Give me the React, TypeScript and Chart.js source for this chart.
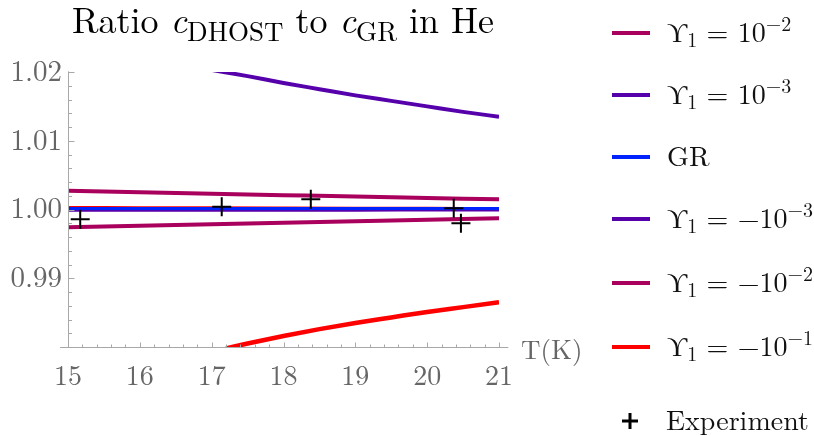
import React, { useEffect, useRef } from "react";
import { Chart, registerables } from "chart.js";

Chart.register(...registerables);

// ---------- data ----------
const T_GRID = [15, 16, 17, 18, 19, 20, 21];
const UPS_POS_2 = [1.00273, 1.00251, 1.0023, 1.00209, 1.00188, 1.00168, 1.00148];
const UPS_NEG_2 = [0.99741, 0.99763, 0.99785, 0.99807, 0.99829, 0.99851, 0.99872];
const GR_VALS = [1.00015, 1.00015, 1.00015, 1.00015, 1.00015, 1.00015, 1.00015];
const UPS_NEG_3 = [0.99995, 0.99996, 0.99997, 0.99998, 0.99998, 0.99999, 1.0];
const RED_NEAR = [1.0004, 1.00038, 1.00036, 1.00033, 1.0003, 1.00028, 1.00026];

const T_POS_3 = [17.0, 17.5, 18, 18.5, 19, 19.5, 20, 20.5, 21];
const UPS_POS_3 = [1.0203, 1.0194, 1.0184, 1.0175, 1.0166, 1.0158, 1.015, 1.0142, 1.0135];

const T_NEG_1 = [17.2, 17.5, 18, 18.5, 19, 19.5, 20, 20.5, 21];
const UPS_NEG_1 = [0.9798, 0.9805, 0.9816, 0.9826, 0.9835, 0.9843, 0.9851, 0.9858, 0.9865];

const EXP_T = [15.17, 17.14, 18.38, 20.37, 20.47];
const EXP_RATIO = [0.99857, 1.0004, 1.00148, 1.00017, 0.998];

const X_MIN = 15;
const X_MAX = 21;
const Y_MIN = 0.98;
const Y_MAX = 1.02;

// legend: sign + exponent ; null = GR
const LEGEND_ITEMS: ({ neg: boolean; exp: string } | null)[] = [
  { neg: false, exp: "2" },
  { neg: false, exp: "3" },
  null,
  { neg: true, exp: "3" },
  { neg: true, exp: "2" },
  { neg: true, exp: "1" },
];

const MAGENTA = "#A8005C";
const PURPLE = "#5600AC";
const BLUE = "#0022FF";
const RED = "#FF0000";
const LEGEND_COLORS = [MAGENTA, PURPLE, BLUE, PURPLE, MAGENTA, RED];

const SERIF = '"Latin Modern Roman", "Liberation Serif", serif';
const GRAY = "#666666";
const AXIS_GRAY = "#a8a8a8";

const pts = (xs: number[], ys: number[]) => xs.map((x, i) => ({ x, y: ys[i] }));

const decorPlugin = {
  id: "decor",
  afterDraw(chart: any) {
    const ctx: CanvasRenderingContext2D = chart.ctx;
    const xs = chart.scales.x;
    const ys = chart.scales.y;
    ctx.save();

    // axes
    ctx.strokeStyle = AXIS_GRAY;
    ctx.lineWidth = 1;
    const yAxisX = Math.round(xs.getPixelForValue(X_MIN)) + 0.5;
    const xAxisY = Math.round(ys.getPixelForValue(Y_MIN)) + 0.5;
    ctx.beginPath();
    ctx.moveTo(xs.getPixelForValue(X_MIN - 0.11), xAxisY);
    ctx.lineTo(xs.getPixelForValue(X_MAX + 0.13), xAxisY);
    ctx.moveTo(yAxisX, ys.getPixelForValue(Y_MAX + 0.0001));
    ctx.lineTo(yAxisX, xAxisY);
    ctx.stroke();

    // x ticks (inward)
    ctx.beginPath();
    for (let k = 0; k <= (X_MAX - X_MIN) * 5; k++) {
      const v = X_MIN + k * 0.2;
      const px = Math.round(xs.getPixelForValue(v)) + 0.5;
      const len = k % 5 === 0 ? 5 : 3;
      ctx.moveTo(px, xAxisY);
      ctx.lineTo(px, xAxisY - len);
    }
    // y ticks (inward)
    for (let k = 0; k <= 20; k++) {
      const v = Y_MIN + k * 0.002;
      const py = Math.round(ys.getPixelForValue(v)) + 0.5;
      const len = k % 5 === 0 ? 6 : 3.5;
      ctx.moveTo(yAxisX, py);
      ctx.lineTo(yAxisX + len, py);
    }
    ctx.stroke();

    // axis label T(K)
    ctx.fillStyle = GRAY;
    ctx.font = `27px ${SERIF}`;
    ctx.textBaseline = "alphabetic";
    ctx.textAlign = "left";
    ctx.fillText("T(K)", 521, 359);

    // title
    ctx.fillStyle = "#000";
    const segs: { t: string; f: string; dy: number }[] = [
      { t: "Ratio ", f: `36px ${SERIF}`, dy: 0 },
      { t: "c", f: `italic 36px ${SERIF}`, dy: 0 },
      { t: "DHOST", f: `27px ${SERIF}`, dy: 8 },
      { t: " to ", f: `36px ${SERIF}`, dy: 0 },
      { t: "c", f: `italic 36px ${SERIF}`, dy: 0 },
      { t: "GR", f: `27px ${SERIF}`, dy: 8 },
      { t: " in He", f: `36px ${SERIF}`, dy: 0 },
    ];
    let total = 0;
    for (const s of segs) {
      ctx.font = s.f;
      total += ctx.measureText(s.t).width;
    }
    let tx = 283 - total / 2;
    for (const s of segs) {
      ctx.font = s.f;
      ctx.fillText(s.t, tx, 33 + s.dy);
      tx += ctx.measureText(s.t).width;
    }

    // legend
    const rowY = [33, 95, 157, 219, 283, 347];
    LEGEND_ITEMS.forEach((item, i) => {
      const y = rowY[i];
      ctx.strokeStyle = LEGEND_COLORS[i];
      ctx.lineWidth = 4;
      ctx.beginPath();
      ctx.moveTo(612, y);
      ctx.lineTo(650, y);
      ctx.stroke();
      ctx.fillStyle = "#111";
      let x = 667;
      const base = y + 9;
      const draw = (t: string, f: string, dy: number) => {
        ctx.font = f;
        ctx.fillText(t, x, base + dy);
        x += ctx.measureText(t).width;
      };
      if (!item) {
        draw("GR", `28px ${SERIF}`, 0);
        return;
      }
      draw("ϒ", `28px ${SERIF}`, 0);
      draw("1", `20px ${SERIF}`, 5);
      draw(" = ", `28px ${SERIF}`, 0);
      draw((item.neg ? "−" : "") + "10", `28px ${SERIF}`, 0);
      draw("−" + item.exp, `20px ${SERIF}`, -11);
    });
    // experiment legend
    ctx.strokeStyle = "#000";
    ctx.lineWidth = 3;
    ctx.beginPath();
    ctx.moveTo(622, 421);
    ctx.lineTo(638, 421);
    ctx.moveTo(630, 413);
    ctx.lineTo(630, 429);
    ctx.stroke();
    ctx.fillStyle = "#111";
    ctx.font = `28px ${SERIF}`;
    ctx.fillText("Experiment", 666, 430);

    ctx.restore();
  },
};

export default function App() {
  const ref = useRef<HTMLCanvasElement | null>(null);

  useEffect(() => {
    if (!ref.current) return;
    let chart: Chart | null = null;
    let cancelled = false;
    const line = (label: string, xs: number[], ys: number[], color: string, w: number) => ({
      type: "line" as const,
      label,
      data: pts(xs, ys),
      borderColor: color,
      backgroundColor: color,
      borderWidth: w,
      pointRadius: 0,
      tension: 0.4,
      cubicInterpolationMode: "monotone" as const,
      clip: 0,
      fill: false,
    });
    const build = () => {
      if (cancelled || !ref.current) return;
      chart = new Chart(ref.current, {
        type: "line",
        data: {
          datasets: [
            {
              type: "scatter" as const,
              label: "Experiment",
              data: pts(EXP_T, EXP_RATIO),
              pointStyle: "cross",
              pointRadius: 9.5,
              pointBorderWidth: 2,
              borderColor: "#000",
              backgroundColor: "#000",
              showLine: false,
              clip: false,
            } as any,
            line("Υ1 = 10^-2", T_GRID, UPS_POS_2, MAGENTA, 4),
            line("Υ1 = 10^-3", T_POS_3, UPS_POS_3, PURPLE, 4),
            line("GR", T_GRID, GR_VALS, BLUE, 3),
            line("Υ1 = -10^-3", T_GRID, UPS_NEG_3, PURPLE, 4),
            line("Υ1 = -10^-2", T_GRID, UPS_NEG_2, MAGENTA, 4),
            line("Υ1 = -10^-1", T_NEG_1, UPS_NEG_1, RED, 4.5),
            line("near", T_GRID, RED_NEAR, RED, 1.5),
          ],
        },
        options: {
          animation: false,
          responsive: false,
          maintainAspectRatio: false,
          events: [],
          layout: { padding: { left: 0, top: 72, right: 814 - 499, bottom: 0 } },
          plugins: { legend: { display: false }, title: { display: false }, tooltip: { enabled: false } },
          scales: {
            x: {
              type: "linear",
              min: X_MIN,
              max: X_MAX,
              afterFit: (s: any) => {
                s.height = 436 - 347;
              },
              grid: { display: false, drawTicks: false },
              border: { display: false },
              ticks: {
                stepSize: 1,
                padding: 13,
                color: GRAY,
                font: { family: SERIF, size: 28 },
                callback: (v: any) => String(v),
              },
            },
            y: {
              type: "linear",
              min: Y_MIN,
              max: Y_MAX,
              afterFit: (s: any) => {
                s.width = 68;
              },
              grid: { display: false, drawTicks: false },
              border: { display: false },
              ticks: {
                stepSize: 0.01,
                padding: 6,
                color: GRAY,
                font: { family: SERIF, size: 29 },
                callback: (v: any) => (Math.abs(v - Y_MIN) < 1e-9 ? "" : Number(v).toFixed(2)),
              },
            },
          },
        },
        plugins: [decorPlugin],
      } as any);
    };
    const fonts: any = (document as any).fonts;
    if (fonts && fonts.load) {
      Promise.all([
        fonts.load('28px "Latin Modern Roman"'),
        fonts.load('italic 36px "Latin Modern Roman"'),
      ])
        .catch(() => null)
        .then(build);
    } else {
      build();
    }
    return () => {
      cancelled = true;
      if (chart) chart.destroy();
    };
  }, []);

  return (
    <div style={{ position: "absolute", left: 0, top: 0, width: 814, height: 436, background: "#fff" }}>
      <canvas ref={ref} width={814} height={436} style={{ width: 814, height: 436 }} />
    </div>
  );
}
